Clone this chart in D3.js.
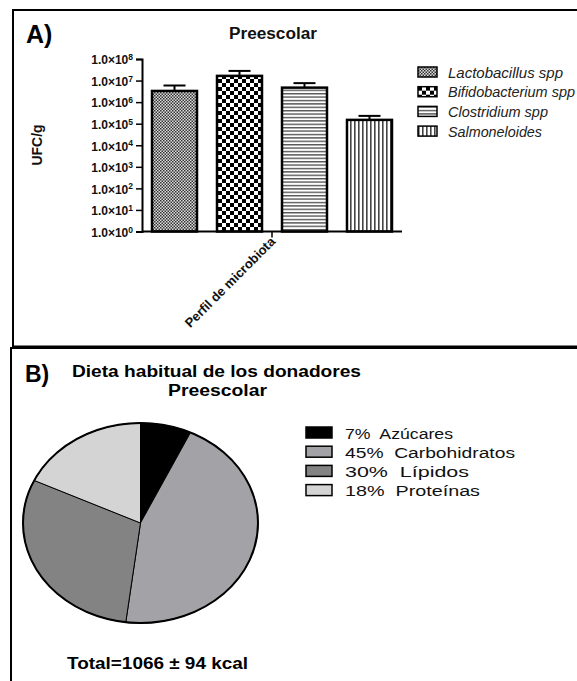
<!DOCTYPE html>
<html>
<head>
<meta charset="utf-8">
<script src="https://cdn.jsdelivr.net/npm/d3@7"></script>
<style>
  body { margin: 0; background: #fff; }
  text { font-family: "Liberation Sans", Arial, sans-serif; }
</style>
</head>
<body>
<div id="chart"></div>
<script>
// panel A data
const bacteria = ["Lactobacillus spp", "Bifidobacterium spp", "Clostridium spp", "Salmoneloides"];
const meanUFC = [3.3e6, 1.65e7, 4.7e6, 1.5e5];
const semUFC = [2.6e6, 1.15e7, 2.9e6, 0.8e5];
const tickExps = [0, 1, 2, 3, 4, 5, 6, 7, 8];

// panel B data
const nutrients = ["Azúcares", "Carbohidratos", "Lípidos", "Proteínas"];
const dietPct = [7, 45, 30, 18];
const pieColors = ["#000000", "#a3a3a7", "#838383", "#d4d4d4"];

const width = 577, height = 681;

const svg = d3.select("#chart")
    .append("svg")
    .attr("width", width)
    .attr("height", height);

// patterns for the bars
const defs = svg.append("defs");

const fine = defs.append("pattern").attr("id", "pat0")
    .attr("patternUnits", "userSpaceOnUse").attr("width", 3).attr("height", 3);
fine.append("rect").attr("width", 3).attr("height", 3).attr("fill", "#ddd");
fine.append("rect").attr("width", 1.5).attr("height", 1.5).attr("fill", "#333");
fine.append("rect").attr("x", 1.5).attr("y", 1.5).attr("width", 1.5).attr("height", 1.5).attr("fill", "#333");

const checks = defs.append("pattern").attr("id", "pat1")
    .attr("patternUnits", "userSpaceOnUse").attr("width", 8).attr("height", 8);
checks.append("rect").attr("width", 8).attr("height", 8).attr("fill", "#fff");
checks.append("rect").attr("width", 4).attr("height", 4).attr("fill", "#000");
checks.append("rect").attr("x", 4).attr("y", 4).attr("width", 4).attr("height", 4).attr("fill", "#000");

const hlines = defs.append("pattern").attr("id", "pat2")
    .attr("patternUnits", "userSpaceOnUse").attr("width", 4).attr("height", 3.4);
hlines.append("rect").attr("width", 4).attr("height", 3.4).attr("fill", "#fff");
hlines.append("rect").attr("width", 4).attr("height", 1.4).attr("fill", "#555");

const vlines = defs.append("pattern").attr("id", "pat3")
    .attr("patternUnits", "userSpaceOnUse").attr("width", 4).attr("height", 4);
vlines.append("rect").attr("width", 4).attr("height", 4).attr("fill", "#fff");
vlines.append("rect").attr("width", 1.6).attr("height", 4).attr("fill", "#444");

// panel frames
svg.append("path")
    .attr("d", "M580,10 H13 V346.5 H580")
    .attr("fill", "none").attr("stroke", "#000").attr("stroke-width", 2);
svg.append("path")
    .attr("d", "M580,348 H11 V690")
    .attr("fill", "none").attr("stroke", "#000").attr("stroke-width", 2);

// ---------- panel A: bars ----------
const margin = { top: 59, left: 142 };
const graphWidth = 260;
const graphHeight = 172.5;

const graph = svg.append("g")
    .attr("transform", `translate(${margin.left}, ${margin.top})`);

const y = d3.scaleLog()
    .domain([1, 1e8])
    .range([graphHeight, 0]);

const x = d3.scaleBand()
    .domain(bacteria)
    .range([0, graphWidth])
    .paddingInner(0.3077)
    .paddingOuter(0.154);

// bars
graph.selectAll("rect.bar")
    .data(bacteria)
    .enter()
    .append("rect")
    .attr("class", "bar")
    .attr("x", d => x(d))
    .attr("width", x.bandwidth())
    .attr("y", (d, i) => y(meanUFC[i]))
    .attr("height", (d, i) => graphHeight - y(meanUFC[i]))
    .attr("fill", (d, i) => `url(#pat${i})`)
    .attr("stroke", "#000")
    .attr("stroke-width", 2.5);

// error bars
const errs = graph.selectAll("g.err")
    .data(bacteria)
    .enter()
    .append("g")
    .attr("class", "err");

errs.append("line")
    .attr("x1", d => x(d) + x.bandwidth() / 2)
    .attr("x2", d => x(d) + x.bandwidth() / 2)
    .attr("y1", (d, i) => y(meanUFC[i]))
    .attr("y2", (d, i) => y(meanUFC[i] + semUFC[i]))
    .attr("stroke", "#000").attr("stroke-width", 2);

errs.append("line")
    .attr("x1", d => x(d) + x.bandwidth() / 2 - 11)
    .attr("x2", d => x(d) + x.bandwidth() / 2 + 11)
    .attr("y1", (d, i) => y(meanUFC[i] + semUFC[i]))
    .attr("y2", (d, i) => y(meanUFC[i] + semUFC[i]))
    .attr("stroke", "#000").attr("stroke-width", 2);

// axes
const yAxisGroup = graph.append("g");
yAxisGroup.call(d3.axisLeft(y)
    .tickValues(tickExps.map(e => Math.pow(10, e)))
    .tickSize(6)
    .tickPadding(3)
    .tickFormat(""));

yAxisGroup.selectAll("path.domain").attr("stroke-width", 2);
yAxisGroup.selectAll("line").attr("stroke-width", 1.5);

yAxisGroup.selectAll(".tick text")
    .attr("font-size", 12)
    .attr("font-weight", "bold")
    .attr("dy", "0.4em")
    .attr("fill", "#111")
    .each(function (d, i) {
        const t = d3.select(this);
        t.text("1.0×10");
        t.append("tspan")
            .attr("dy", "-0.5em")
            .attr("font-size", 8.5)
            .text(tickExps[i]);
    });

const xAxisGroup = graph.append("g")
    .attr("transform", `translate(0, ${graphHeight})`);
xAxisGroup.append("line")
    .attr("x1", 0).attr("x2", graphWidth)
    .attr("stroke", "#000").attr("stroke-width", 2);
xAxisGroup.append("line")
    .attr("x1", graphWidth / 2).attr("x2", graphWidth / 2)
    .attr("y1", 0).attr("y2", 6)
    .attr("stroke", "#000").attr("stroke-width", 1.5);
xAxisGroup.append("text")
    .attr("transform", `translate(${graphWidth / 2 + 4}, 11) rotate(-45)`)
    .attr("text-anchor", "end")
    .attr("font-size", 13)
    .attr("font-weight", "bold")
    .attr("fill", "#111")
    .text("Perfil de microbiota");

// titles
svg.append("text")
    .attr("x", 229).attr("y", 39)
    .attr("font-size", 16)
    .attr("font-weight", "bold")
    .attr("fill", "#111")
    .attr("textLength", 88)
    .attr("lengthAdjust", "spacingAndGlyphs")
    .text("Preescolar");

svg.append("text")
    .attr("x", 26).attr("y", 43)
    .attr("font-size", 25)
    .attr("font-weight", "bold")
    .text("A)");

svg.append("text")
    .attr("transform", "translate(42, 145) rotate(-90)")
    .attr("text-anchor", "middle")
    .attr("font-size", 14)
    .attr("font-weight", "bold")
    .attr("fill", "#111")
    .text("UFC/g");

// bar legend
const legATextWidth = [115, 127, 100, 94];
const legA = svg.append("g").attr("transform", "translate(418, 67)");
const legARows = legA.selectAll("g")
    .data(bacteria)
    .enter()
    .append("g")
    .attr("transform", (d, i) => `translate(0, ${i * 19.7})`);
legARows.append("rect")
    .attr("width", 19).attr("height", 10)
    .attr("fill", (d, i) => `url(#pat${i})`)
    .attr("stroke", "#000").attr("stroke-width", 1.5);
legARows.append("text")
    .attr("x", 30).attr("y", 10.5)
    .attr("font-size", 14.5)
    .attr("font-style", "italic")
    .attr("fill", "#222")
    .attr("textLength", (d, i) => legATextWidth[i])
    .attr("lengthAdjust", "spacingAndGlyphs")
    .text(d => d);

// ---------- panel B: pie ----------
const rx = 117.5, ry = 100;
const pieGroup = svg.append("g")
    .attr("transform", `translate(140.5, 523) scale(1, ${ry / rx})`);

const pie = d3.pie().sort(null).value(d => d);
const arc = d3.arc().innerRadius(0).outerRadius(rx);

pieGroup.selectAll("path.slice")
    .data(pie(dietPct))
    .enter()
    .append("path")
    .attr("class", "slice")
    .attr("d", arc)
    .attr("fill", (d, i) => pieColors[i])
    .attr("stroke", "#000")
    .attr("stroke-width", 1)
    .attr("vector-effect", "non-scaling-stroke");

pieGroup.append("circle")
    .attr("r", rx)
    .attr("fill", "none")
    .attr("stroke", "#000")
    .attr("stroke-width", 2)
    .attr("vector-effect", "non-scaling-stroke");

svg.append("text")
    .attr("x", 25).attr("y", 382)
    .attr("font-size", 23)
    .attr("font-weight", "bold")
    .text("B)");

svg.append("text")
    .attr("x", 72).attr("y", 377)
    .attr("font-size", 16)
    .attr("font-weight", "bold")
    .attr("textLength", 289)
    .attr("lengthAdjust", "spacingAndGlyphs")
    .text("Dieta habitual de los donadores");

svg.append("text")
    .attr("x", 168).attr("y", 396)
    .attr("font-size", 16)
    .attr("font-weight", "bold")
    .attr("textLength", 99)
    .attr("lengthAdjust", "spacingAndGlyphs")
    .text("Preescolar");

const legB = svg.append("g").attr("transform", "translate(306, 427)");
const legBRows = legB.selectAll("g")
    .data(nutrients)
    .enter()
    .append("g")
    .attr("transform", (d, i) => `translate(0, ${i * 19.2})`);
legBRows.append("rect")
    .attr("width", 26).attr("height", 11)
    .attr("fill", (d, i) => pieColors[i])
    .attr("stroke", "#000").attr("stroke-width", 1.5);
legBRows.append("text")
    .attr("x", 39).attr("y", 11.5)
    .attr("font-size", 15.5)
    .attr("fill", "#111")
    .attr("textLength", (d, i) => [108, 170, 124, 135][i])
    .attr("lengthAdjust", "spacingAndGlyphs")
    .style("white-space", "pre")
    .text((d, i) => `${dietPct[i]}%  ${d}`);

svg.append("text")
    .attr("x", 67).attr("y", 669)
    .attr("font-size", 16)
    .attr("font-weight", "bold")
    .attr("textLength", 181)
    .attr("lengthAdjust", "spacingAndGlyphs")
    .text("Total=1066 ± 94 kcal");
</script>
</body>
</html>
